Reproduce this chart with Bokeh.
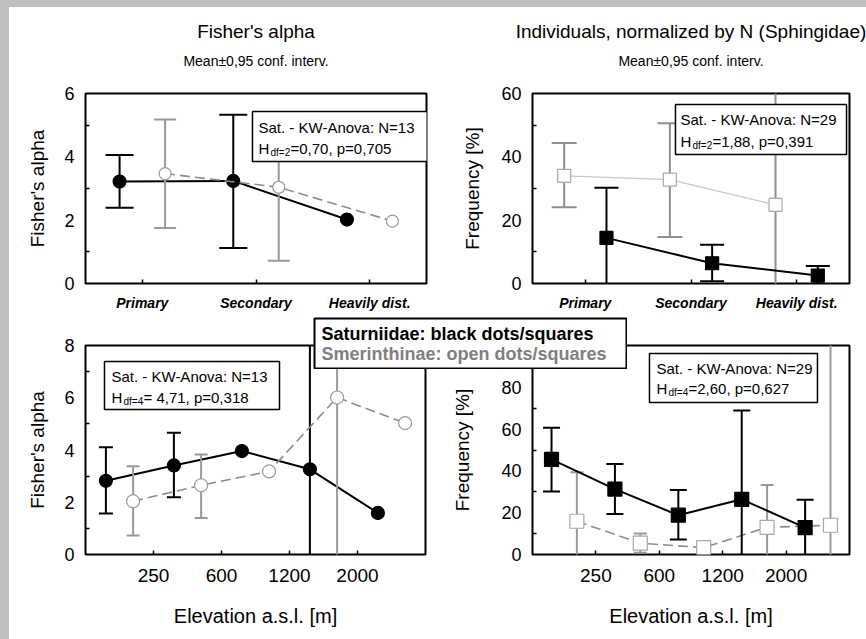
import numpy as np
from bokeh.plotting import figure
from bokeh.models import (ColumnDataSource, FixedTicker, Range1d, BoxAnnotation,
                          Label, Div)
from bokeh.layouts import column, row
from bokeh.embed import file_html
from bokeh.resources import INLINE

nan = np.nan
FONT = "Liberation Sans"

# ---------------- data ----------------
habitats = ["Primary", "Secondary", "Heavily dist."]
elev_ticks = ["250", "600", "1200", "2000"]
n_elev = 5

# Fisher's alpha by habitat
sat_alpha_hab = [3.22, 3.24, 2.02]
sat_alpha_hab_lo = [2.39, 1.12, nan]
sat_alpha_hab_hi = [4.06, 5.33, nan]
sme_alpha_hab = [3.47, 3.04, 1.97]
sme_alpha_hab_lo = [1.75, 0.72, nan]
sme_alpha_hab_hi = [5.18, 5.40, nan]

# Frequency (%) by habitat
sat_freq_hab = [14.4, 6.4, 2.5]
sat_freq_hab_lo = [-1.4, 0.7, -0.6]
sat_freq_hab_hi = [30.2, 12.2, 5.5]
sme_freq_hab = [34.0, 32.8, 24.8]
sme_freq_hab_lo = [24.1, 14.7, -18.0]
sme_freq_hab_hi = [44.4, 50.6, 68.0]

# Fisher's alpha by elevation class
sat_alpha_elev = [2.82, 3.41, 3.96, 3.26, 1.59]
sat_alpha_elev_lo = [1.57, 2.19, nan, -2.0, nan]
sat_alpha_elev_hi = [4.11, 4.66, nan, 8.5, nan]
sme_alpha_elev = [2.04, 2.65, 3.18, 6.01, 5.03]
sme_alpha_elev_lo = [0.73, 1.40, nan, -0.5, nan]
sme_alpha_elev_hi = [3.38, 3.83, nan, 12.5, nan]

# Frequency (%) by elevation class
sat_freq_elev = [45.5, 31.3, 18.8, 26.4, 12.9]
sat_freq_elev_lo = [30.2, 19.4, 7.2, -16.1, -0.3]
sat_freq_elev_hi = [60.6, 43.3, 30.9, 68.9, 26.2]
sme_freq_elev = [15.9, 5.4, 3.3, 13.0, 14.0]
sme_freq_elev_lo = [-7.5, 0.8, 0.1, -7.2, -77.0]
sme_freq_elev_hi = [39.3, 10.0, 6.5, 33.2, 105.0]

titles_left = ["Fisher's alpha", "Mean\u00b10,95 conf. interv."]
titles_right = ["Individuals, normalized by N (Sphingidae)", "Mean\u00b10,95 conf. interv."]
stats_tl = ["Sat. -  KW-Anova: N=13", "df=2", "=0,70, p=0,705"]
stats_tr = ["Sat. -  KW-Anova: N=29", "df=2", "=1,88, p=0,391"]
stats_bl = ["Sat. -  KW-Anova: N=13", "df=4", "= 4,71, p=0,318"]
stats_br = ["Sat. - KW-Anova: N=29", "df=4", "=2,60, p=0,627"]
legend_lines = ["Saturniidae: black dots/squares", "Smerinthinae: open dots/squares"]

GRAY = "#999999"


def blank_fig(w, h, **kw):
    p = figure(width=w, height=h, x_range=Range1d(0, w), y_range=Range1d(0, h),
               output_backend="svg", toolbar_location=None,
               x_axis_location=None, y_axis_location=None, min_border=0, **kw)
    p.xgrid.visible = False
    p.ygrid.visible = False
    p.outline_line_color = None
    p.border_fill_color = "white"
    p.background_fill_color = "white"
    return p


def make_fig(w, h, bl, br, bt, bb, xr, yr):
    p = figure(width=w, height=h, x_range=Range1d(*xr), y_range=Range1d(*yr),
               output_backend="svg", toolbar_location=None,
               min_border_left=bl, min_border_right=br,
               min_border_top=bt, min_border_bottom=bb)
    p.xgrid.visible = False
    p.ygrid.visible = False
    p.outline_line_color = "black"
    p.outline_line_width = 2
    p.outline_line_alpha = 1
    p.border_fill_color = "white"
    p.background_fill_color = "white"
    p.axis.axis_line_color = None
    p.axis.major_tick_line_color = "black"
    p.axis.major_tick_line_width = 1.5
    p.axis.minor_tick_line_color = "black"
    p.axis.minor_tick_line_width = 1.5
    p.axis.major_label_text_font = FONT
    p.axis.axis_label_text_font = FONT
    p.axis.axis_label_text_font_style = "normal"
    p.axis.axis_label_text_color = "black"
    p.axis.major_label_text_color = "black"
    return p


def y_axis(p, ticks, minor, label, standoff):
    ax = p.yaxis[0]
    ax.ticker = FixedTicker(ticks=ticks, minor_ticks=minor)
    ax.major_tick_in = 0
    ax.major_tick_out = 0
    ax.minor_tick_in = 4
    ax.minor_tick_out = 0
    ax.major_label_text_font_size = "18px"
    ax.major_label_standoff = 11
    ax.axis_label = label
    ax.axis_label_text_font_size = "19px"
    ax.axis_label_standoff = standoff


def x_axis(p, ticks, labels, size, style, label=None):
    ax = p.xaxis[0]
    ax.ticker = FixedTicker(ticks=ticks)
    ax.major_label_overrides = {t: l for t, l in zip(ticks, labels)}
    ax.major_tick_in = 4
    ax.major_tick_out = 0
    ax.minor_tick_in = 0
    ax.minor_tick_out = 0
    ax.major_label_text_font_size = size
    ax.major_label_text_font_style = style
    ax.major_label_standoff = 11
    if label:
        ax.major_label_standoff = 14
        ax.axis_label = label
        ax.axis_label_text_font_size = "20px"
        ax.axis_label_standoff = 20


def header(w, h, xc, texts):
    hp = blank_fig(w, h)
    kw = dict(x=xc, text_font=FONT, text_align="center", text_baseline="middle",
              text_color="black")
    hp.add_layout(Label(y=h - 24, text=texts[0], text_font_size="19px", **kw))
    hp.add_layout(Label(y=h - 53, text=texts[1], text_font_size="14px", **kw))
    return hp


def series(p, x, y, lo, hi, color, marker, size, fill, mline, line_color,
           line_width, line_dash, cap):
    src = ColumnDataSource(dict(x=np.array(x, float), y=np.array(y, float),
                                lo=np.array(lo, float), hi=np.array(hi, float)))
    p.segment(x0="x", y0="lo", x1="x", y1="hi", source=src, line_color=color, line_width=2)
    p.scatter("x", "hi", source=src, marker="dash", size=cap, line_color=color, line_width=2)
    p.scatter("x", "lo", source=src, marker="dash", size=cap, line_color=color, line_width=2)
    p.line("x", "y", source=src, line_color=line_color, line_width=line_width,
           line_dash=line_dash)
    p.scatter("x", "y", source=src, marker=marker, size=size, fill_color=fill,
              line_color=mline, line_width=1.2)


def stat_box(p, left, right, top, bottom, texts, dx, dy1, dy2):
    p.add_layout(BoxAnnotation(left=left, right=right, top=top, bottom=bottom,
                               fill_color="white", fill_alpha=1, line_color="black",
                               line_width=1.5, line_alpha=1, level="overlay"))
    kw = dict(x=left, y=top, text_font=FONT, text_baseline="middle", level="overlay",
              text_color="black")
    p.add_layout(Label(x_offset=dx, y_offset=-dy1, text=texts[0], text_font_size="15px", **kw))
    p.add_layout(Label(x_offset=dx, y_offset=-dy2, text="H", text_font_size="15px", **kw))
    p.add_layout(Label(x_offset=dx + 12, y_offset=-dy2 - 4, text=texts[1],
                       text_font_size="10px", **kw))
    p.add_layout(Label(x_offset=dx + 32, y_offset=-dy2, text=texts[2],
                       text_font_size="15px", **kw))


hab_x = [i + 1 for i in range(len(habitats))]
elev_x = [i + 1 for i in range(n_elev)]
elev_tick_x = [i + 1.5 for i in range(len(elev_ticks))]

# ---------------- headers ----------------
h1 = header(424, 70, 246.5, titles_left)
h2 = header(433, 70, 257.5, titles_right)

# ---------------- top-left ----------------
p1 = make_fig(424, 243, 76, 7, 16, 37, (0.5, 3.5), (0, 6))
y_axis(p1, [0, 2, 4, 6], [1, 3, 5], "Fisher's alpha", 13)
x_axis(p1, hab_x, habitats, "14px", "bold italic")
series(p1, [v - 0.2 for v in hab_x], sat_alpha_hab, sat_alpha_hab_lo, sat_alpha_hab_hi,
       "black", "circle", 13, "black", "black", "black", 2, "solid", 28)
series(p1, [v + 0.2 for v in hab_x], sme_alpha_hab, sme_alpha_hab_lo, sme_alpha_hab_hi,
       GRAY, "circle", 12, "white", GRAY, "#8c8c8c", 1.6, "10 5", 22)
stat_box(p1, 1.969, 3.515, 5.43, 3.85, stats_tl, 6, 16, 37)

# ---------------- top-right ----------------
p2 = make_fig(433, 243, 99, 17, 16, 37, (0.5, 3.5), (0, 60))
y_axis(p2, [0, 20, 40, 60], [10, 30, 50], "Frequency [%]", 15)
x_axis(p2, hab_x, habitats, "14px", "bold italic")
series(p2, [v - 0.2 for v in hab_x], sme_freq_hab, sme_freq_hab_lo, sme_freq_hab_hi,
       "#8f8f8f", "square", 13, "white", "#a8a8a8", "#c8c8c8", 1.2, "solid", 25)
series(p2, [v + 0.2 for v in hab_x], sat_freq_hab, sat_freq_hab_lo, sat_freq_hab_hi,
       "black", "square", 13, "black", "black", "black", 2, "solid", 24)
stat_box(p2, 1.853, 3.472, 56.5, 40.7, stats_tr, 5, 15, 37)

# ---------------- bottom-left ----------------
p3 = make_fig(424, 319, 76, 8, 25, 85, (0.5, 5.5), (0, 8))
y_axis(p3, [0, 2, 4, 6, 8], [1, 3, 5, 7], "Fisher's alpha", 13)
x_axis(p3, elev_tick_x, elev_ticks, "19px", "normal", "Elevation a.s.l. [m]")
series(p3, [v - 0.2 for v in elev_x], sat_alpha_elev, sat_alpha_elev_lo, sat_alpha_elev_hi,
       "black", "circle", 13, "black", "black", "black", 2, "solid", 14)
series(p3, [v + 0.2 for v in elev_x], sme_alpha_elev, sme_alpha_elev_lo, sme_alpha_elev_hi,
       GRAY, "circle", 13, "white", GRAY, "#8c8c8c", 1.6, "10 5", 13)
stat_box(p3, 0.779, 3.353, 7.39, 5.55, stats_bl, 7, 15, 36)

# ---------------- bottom-right ----------------
p4 = make_fig(433, 319, 99, 17, 25, 85, (0.5, 5.5), (0, 100))
y_axis(p4, [0, 20, 40, 60, 80, 100], [10, 30, 50, 70, 90], "Frequency [%]", 15)
x_axis(p4, elev_tick_x, elev_ticks, "19px", "normal", "Elevation a.s.l. [m]")
series(p4, [v + 0.2 for v in elev_x], sme_freq_elev, sme_freq_elev_lo, sme_freq_elev_hi,
       GRAY, "square", 14, "white", "#a8a8a8", "#8c8c8c", 1.6, "10 5", 13)
series(p4, [v - 0.2 for v in elev_x], sat_freq_elev, sat_freq_elev_lo, sat_freq_elev_hi,
       "black", "square", 14, "black", "black", "black", 2, "solid", 17)
stat_box(p4, 2.345, 4.995, 96.2, 72.7, stats_br, 7, 15, 35)

# ---------------- legend box ----------------
pl = figure(width=314, height=52, x_range=Range1d(0, 314), y_range=Range1d(0, 52),
            output_backend="svg", toolbar_location=None,
            x_axis_location=None, y_axis_location=None, min_border=1,
            styles={"position": "absolute", "left": "313px", "top": "317px", "z-index": "10"})
pl.xgrid.visible = False
pl.ygrid.visible = False
pl.outline_line_color = "black"
pl.outline_line_width = 2
pl.border_fill_color = "white"
pl.background_fill_color = "white"
pl.add_layout(Label(x=7, y=36, text=legend_lines[0], text_font=FONT, text_font_size="18px",
                    text_font_style="bold", text_color="black", text_baseline="middle"))
pl.add_layout(Label(x=7, y=15, text=legend_lines[1], text_font=FONT, text_font_size="18px",
                    text_font_style="bold", text_color="#808080", text_baseline="middle"))

top_strip = Div(text="", width=866, height=7, margin=0,
                styles={"background-color": "#c0c0c0"})
left_strip = Div(text="", width=9, height=632, margin=0,
                 styles={"background-color": "#c0c0c0"})

grid = column(row(h1, h2), row(p1, p2), row(p3, p4))
root = column(top_strip, row(left_strip, grid), pl)

open("out.html", "w").write(file_html(root, INLINE))
